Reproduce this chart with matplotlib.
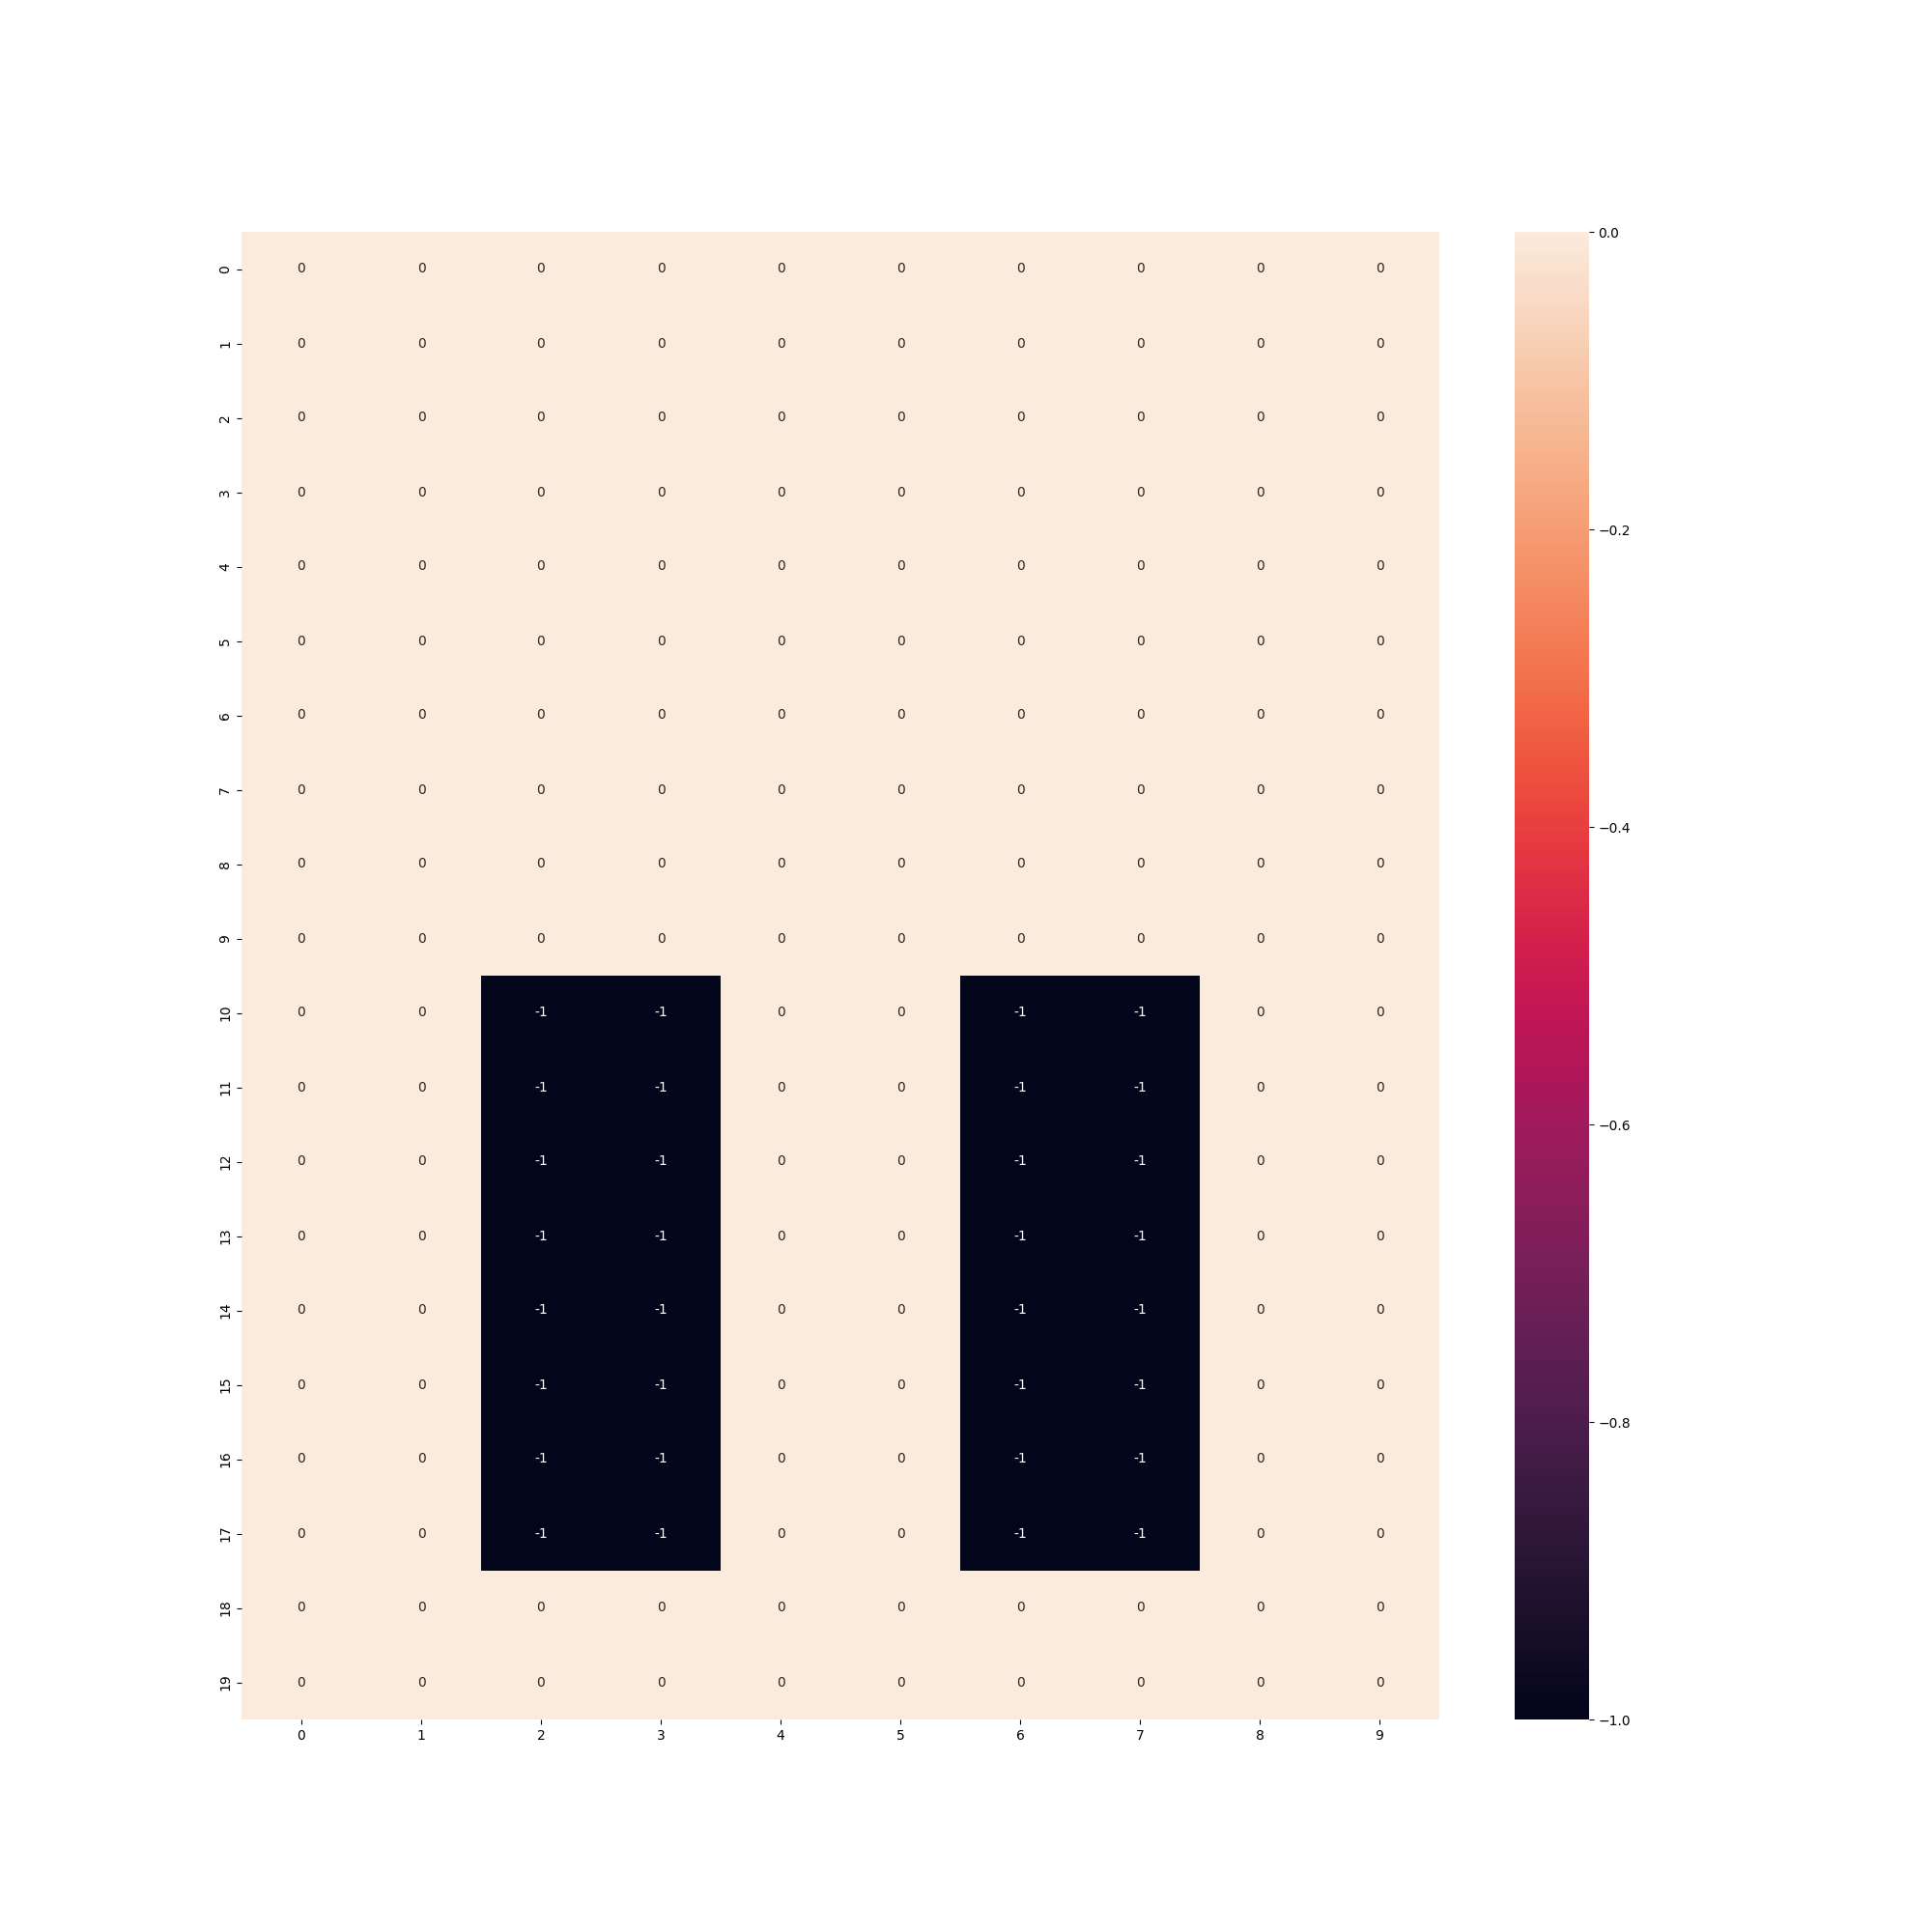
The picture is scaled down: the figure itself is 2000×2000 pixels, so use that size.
import numpy as np
import matplotlib
matplotlib.use("Agg")
import matplotlib.pyplot as plt
import seaborn as sns

# grid: 20 rows x 10 columns, zero everywhere except two blocks of -1
n_rows, n_cols = 20, 10
block_rows = list(range(10, 18))
block_cols = [2, 3, 6, 7]
block_value = -1

grid = np.zeros((n_rows, n_cols), dtype=int)
for r in block_rows:
    for c in block_cols:
        grid[r, c] = block_value

fig = plt.figure(figsize=(20, 20), dpi=100)
ax = plt.subplot(111)
sns.heatmap(grid, annot=True, ax=ax)

plt.savefig("out.png", dpi=100)
